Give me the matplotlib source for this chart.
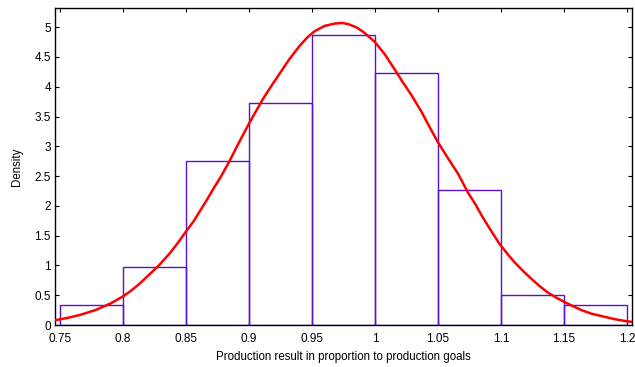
import matplotlib
matplotlib.use('Agg')
import matplotlib.pyplot as plt
import numpy as np

# histogram bins (left edges) and densities
bin_edges = [0.75, 0.80, 0.85, 0.90, 0.95, 1.00, 1.05, 1.10, 1.15, 1.20]
densities = [0.33, 0.98, 2.76, 3.73, 4.87, 4.23, 2.27, 0.50, 0.33]

# fitted density curve points
curve_x = [0.746, 0.756, 0.766, 0.778, 0.790, 0.800, 0.806, 0.813, 0.820, 0.828,
           0.837, 0.844, 0.850, 0.856, 0.861, 0.866, 0.871, 0.878, 0.885, 0.892,
           0.900, 0.911, 0.918, 0.925, 0.932, 0.940, 0.946, 0.952, 0.960, 0.968,
           0.974, 0.979, 0.986, 0.992, 1.000, 1.008, 1.016, 1.022, 1.029, 1.037,
           1.043, 1.050, 1.058, 1.066, 1.074, 1.080, 1.085, 1.092, 1.099, 1.105,
           1.111, 1.118, 1.125, 1.131, 1.137, 1.144, 1.151, 1.158, 1.164, 1.172,
           1.180, 1.190, 1.198, 1.205]
curve_y = [0.08, 0.12, 0.17, 0.25, 0.36, 0.48, 0.57, 0.69, 0.83, 0.99,
           1.20, 1.39, 1.57, 1.74, 1.91, 2.08, 2.26, 2.50, 2.77, 3.06,
           3.38, 3.79, 4.02, 4.24, 4.46, 4.68, 4.82, 4.93, 5.02, 5.06,
           5.07, 5.05, 4.99, 4.90, 4.75, 4.54, 4.28, 4.08, 3.86, 3.58,
           3.34, 3.07, 2.80, 2.54, 2.22, 2.02, 1.83, 1.59, 1.36, 1.20,
           1.05, 0.90, 0.76, 0.65, 0.55, 0.46, 0.38, 0.31, 0.25, 0.19,
           0.15, 0.10, 0.07, 0.05]

x_ticks = [0.75, 0.8, 0.85, 0.9, 0.95, 1.0, 1.05, 1.1, 1.15, 1.2]
y_ticks = [0, 0.5, 1, 1.5, 2, 2.5, 3, 3.5, 4, 4.5, 5]

plt.rcParams['font.family'] = ['Liberation Sans', 'DejaVu Sans']

fig = plt.figure(figsize=(6.35, 3.67), dpi=100)
ax = fig.add_axes([0.0866, 0.1144, 0.9084, 0.8636])

ax.bar(bin_edges[:-1], densities, width=np.diff(bin_edges), align='edge',
       fill=False, edgecolor='#5a10cc', linewidth=1.0, zorder=2)
ax.plot(curve_x, curve_y, color='#ff0000', lw=1.8, zorder=3)

ax.set_xlim(0.746, 1.204)
ax.set_ylim(0, 5.32)
ax.set_xticks(x_ticks)
ax.set_xticklabels(['%g' % t for t in x_ticks])
ax.set_yticks(y_ticks)
ax.set_yticklabels(['%g' % t for t in y_ticks])
ax.tick_params(direction='in', top=True, right=True, length=3, labelsize=8.5, pad=3)
ax.tick_params(axis='x', pad=6)
for s in ax.spines.values():
    s.set_linewidth(1.0)
ax.set_xlabel('Production result in proportion to production goals', fontsize=8.3, labelpad=4)
ax.set_ylabel('Density', fontsize=8.3, labelpad=8)

fig.savefig('out.png', dpi=100, facecolor='white')
